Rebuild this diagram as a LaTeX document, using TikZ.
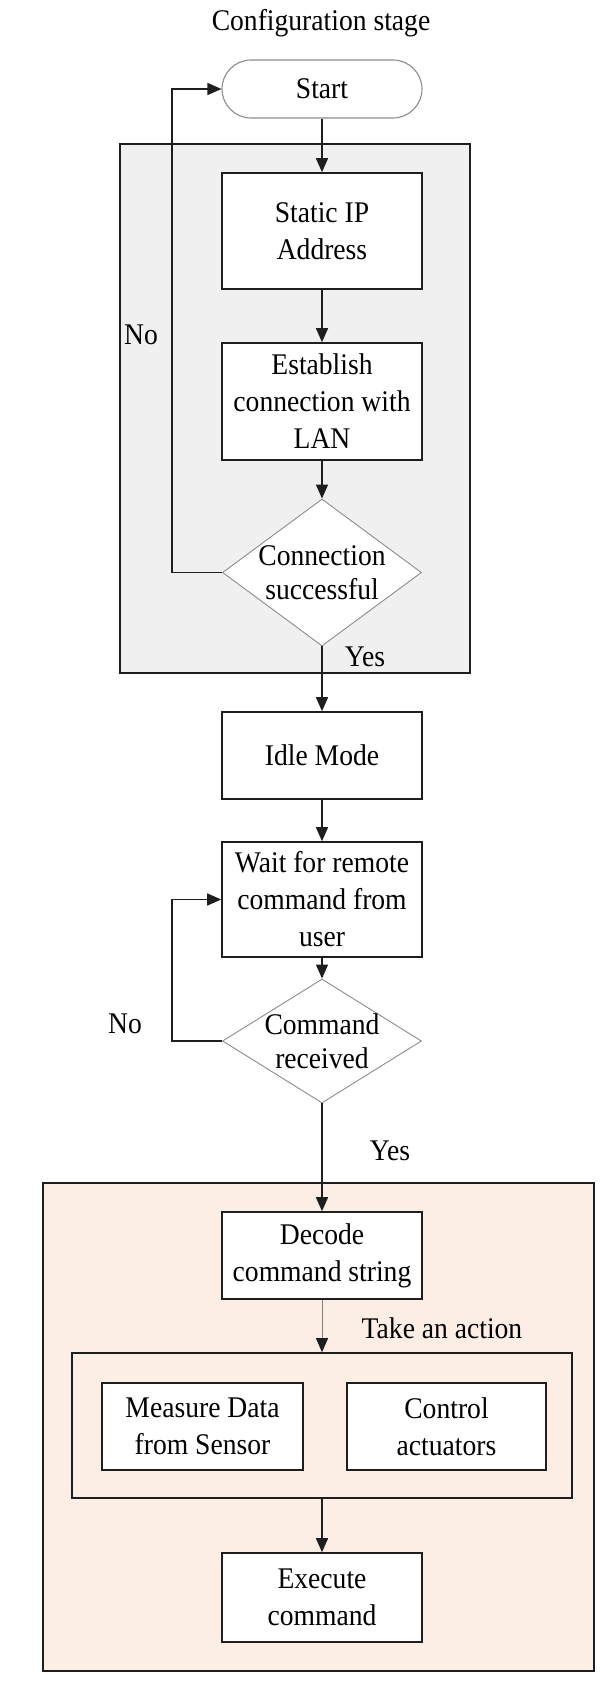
\documentclass[tikz,border=0pt]{standalone}
\usepackage{fontspec}
\setmainfont{Liberation Serif}[FakeStretch=0.92]
\usetikzlibrary{shapes.geometric,arrows.meta}
\definecolor{graybg}{HTML}{F0F0F0}
\definecolor{peach}{HTML}{FCEEE4}
\definecolor{edge}{HTML}{1E1E1E}
\definecolor{dborder}{HTML}{8C8C8C}
\begin{document}
\begin{tikzpicture}[x=1pt,y=-1pt,
  txt/.style={font=\fontsize{30}{37}\selectfont, align=center, inner sep=0pt},
  dtxt/.style={font=\fontsize{30}{34}\selectfont, align=center, inner sep=0pt},
  proc/.style={txt, draw=edge, line width=1.6pt, fill=white, minimum width=200pt},
  dec/.style={diamond, draw=dborder, line width=0.9pt, fill=white, inner sep=0pt, minimum width=199pt},
  arr/.style={-{Triangle[length=14pt,width=12pt,color=edge]}, line width=1.5pt, draw=edge},
  region/.style={draw=edge, line width=1.8pt, inner sep=0pt}
]
\path[use as bounding box, fill=white] (0,0) rectangle (610,1686);
% regions
\node[region, fill=graybg, minimum width=350pt, minimum height=529pt] (cfg) at (295,408.5) {};
\node[region, fill=peach, minimum width=551pt, minimum height=488pt] (run) at (318.5,1427) {};
% nodes
\node[txt] (title) at (321,23) {Configuration stage};
\node[proc, draw=dborder, line width=1.1pt, rounded corners=29pt, minimum height=58pt] (start) at (322,89) {Start};
\node[proc, minimum height=116pt] (ip) at (322,231) {Static IP\\Address};
\node[proc, minimum height=117pt] (lan) at (322,401.5) {Establish\\connection with\\LAN};
\node[dec, minimum height=147pt, label={[dtxt]center:Connection\\successful}] (d1) at (322,572.5) {};
\node[txt] (no1) at (141,335) {No};
\node[txt] (yes1) at (365,657) {Yes};
\node[proc, minimum height=87pt] (idle) at (322,755.5) {Idle Mode};
\node[proc, minimum height=115pt] (wait) at (322,899.5) {Wait for remote\\command from\\user};
\node[dec, minimum height=124pt, label={[dtxt]center:Command\\received}] (d2) at (322,1041) {};
\node[txt] (no2) at (125,1024) {No};
\node[txt] (yes2) at (390,1151) {Yes};
\node[proc, minimum height=87pt] (decode) at (322,1255.5) {Decode\\command string};
\node[txt] (take) at (442,1328) {Take an action};
\node[region, line width=1.6pt, minimum width=500pt, minimum height=145pt] (act) at (322,1425.5) {};
\node[proc, minimum width=201pt, minimum height=87pt] (meas) at (202.5,1426.5) {Measure Data\\from Sensor};
\node[proc, minimum width=199pt, minimum height=87pt] (ctrl) at (446.5,1426.5) {Control\\actuators};
\node[proc, minimum height=89pt] (exec) at (322,1597.5) {Execute\\command};
% connectors
\coordinate (l1) at (172,572.5);
\coordinate (l2) at (172,1041);
\draw[arr] (start) -- (ip);
\draw[arr] (ip) -- (lan);
\draw[arr] (lan) -- (d1);
\draw[arr] (d1) -- (idle);
\draw[arr] (idle) -- (wait);
\draw[arr] (wait) -- (d2);
\draw[arr] (d2) -- (decode);
\draw[arr, draw=gray, line width=0.8pt] (decode) -- (act);
\draw[arr] (act) -- (exec);
\draw[arr] (d1.west) -- (l1) |- (start.west);
\draw[arr] (d2.west) -- (l2) |- (wait.west);
\end{tikzpicture}
\end{document}
